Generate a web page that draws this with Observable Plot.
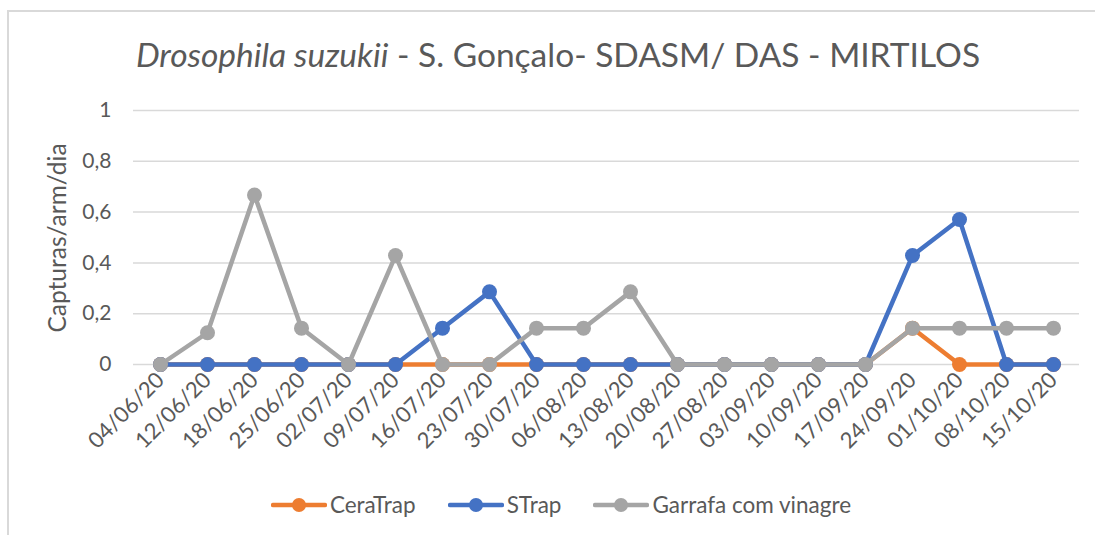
<!DOCTYPE html>
<html>
<head>
<meta charset="utf-8">
<script src="https://cdn.jsdelivr.net/npm/d3@7"></script>
<script src="https://cdn.jsdelivr.net/npm/@observablehq/plot@0.6"></script>
<style>
  html, body { margin: 0; padding: 0; background: #fff; }
  #wrap { position: relative; width: 1095px; height: 535px; overflow: hidden; font-family: Lato, "Open Sans", sans-serif; color: #595959; }
  #frame { position: absolute; left: 7px; top: 10px; width: 1200px; height: 700px; border: 2px solid #d9d9d9; box-sizing: border-box; }
  #chart { position: absolute; left: 0; top: 0; }
  #title { position: absolute; left: 0; width: 1116px; top: 38px; text-align: center; font-size: 33.5px; line-height: 1; white-space: nowrap; }
  #ytitle { position: absolute; left: 57px; top: 238px; transform: translate(-50%, -50%) rotate(-90deg); font-size: 24.5px; line-height: 1; white-space: nowrap; }
  #legend { position: absolute; left: 0; width: 1122px; top: 493px; display: flex; justify-content: center; gap: 32px; font-size: 22.5px; line-height: 24px; }
  .item { display: flex; align-items: center; }
  .item span { margin-left: 3px; }
</style>
</head>
<body>
<div id="wrap">
  <div id="frame"></div>
  <div id="chart"></div>
  <div id="title"><i>Drosophila suzukii</i> - S. Gonçalo- SDASM/ DAS - MIRTILOS</div>
  <div id="ytitle">Capturas/arm/dia</div>
  <div id="legend"></div>
</div>
<script>
const dates = ["04/06/20","12/06/20","18/06/20","25/06/20","02/07/20","09/07/20","16/07/20","23/07/20","30/07/20","06/08/20","13/08/20","20/08/20","27/08/20","03/09/20","10/09/20","17/09/20","24/09/20","01/10/20","08/10/20","15/10/20"];
const ceraTrap = [0,0,0,0,0,0,0,0,0,0,0,0,0,0,0,0,0.143,0,0,0];
const sTrap    = [0,0,0,0,0,0,0.143,0.286,0,0,0,0,0,0,0,0,0.429,0.571,0,0];
const garrafa  = [0,0.125,0.667,0.143,0,0.429,0,0,0.143,0.143,0.286,0,0,0,0,0,0.143,0.143,0.143,0.143];
const seriesNames = ["CeraTrap","STrap","Garrafa com vinagre"];
const seriesColors = ["#ED7D31","#4472C4","#A5A5A5"];
const yTicks = [0,0.2,0.4,0.6,0.8,1];

const seriesValues = [ceraTrap, sTrap, garrafa];
const rows = seriesNames.flatMap((s, i) => dates.map((d, j) => ({series: s, date: d, value: seriesValues[i][j]})));
const fmt = d => String(d).replace(".", ",");

const marks = [
  Plot.ruleY(yTicks, {stroke: "#d9d9d9", strokeWidth: 1.5}),
  Plot.axisY(yTicks, {tickSize: 0, tickPadding: 22, tickFormat: fmt, fontSize: 21, label: null}),
  Plot.axisX({tickRotate: -45, tickSize: 0, tickPadding: 12, fontSize: 22, label: null})
];
seriesNames.forEach(s => {
  const data = rows.filter(r => r.series === s);
  marks.push(Plot.line(data, {x: "date", y: "value", stroke: "series", strokeWidth: 4.5, strokeLinejoin: "round"}));
  marks.push(Plot.dot(data, {x: "date", y: "value", fill: "series", r: 7.5}));
});

const chart = Plot.plot({
  width: 1095,
  height: 490,
  marginTop: 110,
  marginBottom: 126,
  marginLeft: 133,
  marginRight: 16,
  style: {background: "transparent", color: "#595959", fontFamily: "Lato, 'Open Sans', sans-serif"},
  x: {type: "point", domain: dates, padding: 0.5},
  y: {domain: [0, 1]},
  color: {domain: seriesNames, range: seriesColors},
  marks
});
document.getElementById("chart").appendChild(chart);

const legend = document.getElementById("legend");
seriesNames.forEach((s, i) => {
  const item = document.createElement("div");
  item.className = "item";
  item.innerHTML = `<svg width="56" height="20"><line x1="2" y1="10" x2="54" y2="10" stroke="${seriesColors[i]}" stroke-width="4.5" stroke-linecap="round"/><circle cx="28" cy="10" r="7" fill="${seriesColors[i]}"/></svg><span>${s}</span>`;
  legend.appendChild(item);
});
</script>
</body>
</html>
